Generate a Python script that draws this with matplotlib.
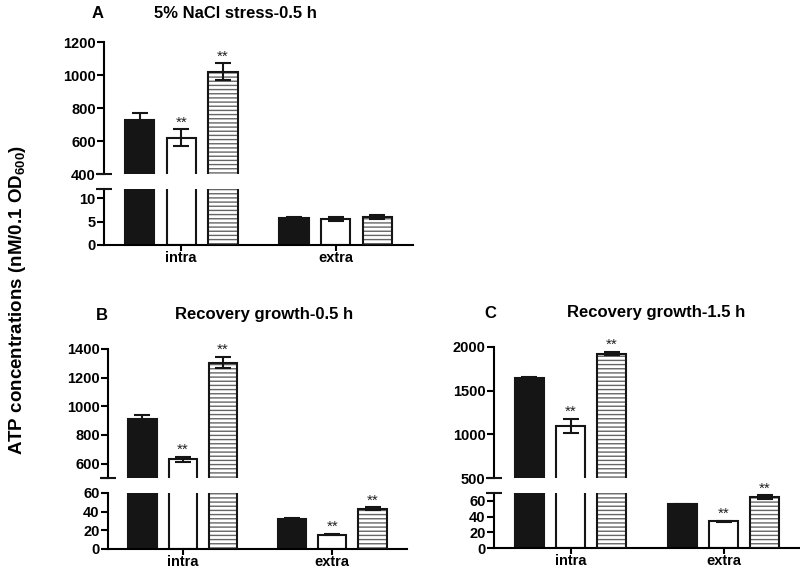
import numpy as np
import matplotlib
matplotlib.use('Agg')
import matplotlib.pyplot as plt

plt.rcParams['font.family'] = ['Liberation Sans', 'DejaVu Sans']
plt.rcParams['font.weight'] = 'bold'
plt.rcParams['mathtext.fontset'] = 'custom'
plt.rcParams['mathtext.bf'] = 'Liberation Sans:bold'
plt.rcParams['mathtext.rm'] = 'Liberation Sans:bold'
plt.rcParams['mathtext.default'] = 'bf'

# data: order of bars within each group = black, white, hatched
categories = ['intra', 'extra']

a_means = [[730, 620, 1020], [5.7, 5.5, 6.0]]
a_errs = [[40, 50, 50], [0.3, 0.4, 0.5]]
a_stars = [['', '**', '**'], ['', '', '']]

b_means = [[915, 630, 1305], [32.5, 15.5, 43]]
b_errs = [[25, 20, 40], [0.6, 0.5, 1.5]]
b_stars = [['', '**', '**'], ['', '**', '**']]

c_means = [[1650, 1095, 1925], [55.5, 34, 65]]
c_errs = [[10, 85, 20], [0.6, 0.6, 2.0]]
c_stars = [['', '**', '**'], ['', '**', '**']]

W, H = 800, 570
fig = plt.figure(figsize=(8, 5.7), dpi=100)


def fbox(x0, x1, y0, y1):
    # pixel box (top-left origin) -> figure fraction rect
    return [x0 / W, 1 - y1 / H, (x1 - x0) / W, (y1 - y0) / H]


offsets = [-0.27, 0, 0.27]
bw = 0.19
LW = 1.5


def draw_bars(ax, means, errs):
    x = np.arange(len(categories))
    for i in range(3):
        xs = x + offsets[i]
        vals = [m[i] for m in means]
        es = [e[i] for e in errs]
        if i == 0:
            ax.bar(xs, vals, bw, color='#151515', edgecolor='#151515', lw=LW, zorder=2)
        elif i == 1:
            ax.bar(xs, vals, bw, color='white', edgecolor='#151515', lw=LW, zorder=2)
        else:
            ax.bar(xs, vals, bw, color='white', edgecolor='#666666', lw=0,
                   hatch='----', zorder=2)
            ax.bar(xs, vals, bw, fill=False, edgecolor='#151515', lw=LW, zorder=3)
        ax.errorbar(xs, vals, yerr=es, fmt='none', ecolor='#151515',
                    elinewidth=LW, capsize=6, capthick=LW, zorder=4)


def style(ax):
    for s in ['top', 'right']:
        ax.spines[s].set_visible(False)
    for s in ['left', 'bottom']:
        ax.spines[s].set_linewidth(LW)
    ax.tick_params(axis='y', width=LW, length=5, labelsize=10.5, pad=1)
    ax.tick_params(axis='x', width=LW, length=4, labelsize=10.5, pad=0.5)
    ax.set_xlim(-0.5, 1.5)


def break_mark(ax, y):
    ax.plot([0], [y], transform=ax.transAxes, marker='_', ms=11, mew=LW,
            color='#151515', clip_on=False, zorder=5)


def panel(box, gap_y, bot_y, means, errs, stars, top_lim, top_ticks, top_labels,
          bot_lim, bot_ticks, bot_labels, bot_break):
    x0, x1, y0 = box
    ax_t = fig.add_axes(fbox(x0, x1, y0, gap_y))
    ax_b = fig.add_axes(fbox(x0, x1, gap_y + 15, bot_y))
    for ax in (ax_t, ax_b):
        draw_bars(ax, means, errs)
        style(ax)
    ax_t.set_ylim(*top_lim)
    ax_t.set_yticks(top_ticks)
    ax_t.set_yticklabels(top_labels)
    ax_t.spines['bottom'].set_visible(False)
    ax_t.set_xticks([])
    ax_b.set_ylim(*bot_lim)
    ax_b.set_yticks(bot_ticks)
    ax_b.set_yticklabels(bot_labels)
    ax_b.set_xticks(np.arange(len(categories)))
    ax_b.set_xticklabels(categories, fontsize=10.5)
    break_mark(ax_t, 0)
    if bot_break:
        break_mark(ax_b, 1)
    # significance stars
    for g in range(len(categories)):
        ax = ax_t if g == 0 else ax_b
        for i in range(3):
            if stars[g][i]:
                ax.annotate(stars[g][i], (g + offsets[i], means[g][i] + errs[g][i]),
                            xytext=(0, 0), textcoords='offset points',
                            ha='center', va='bottom', fontsize=11,
                            fontweight='normal', color='#222222')
    return ax_t, ax_b


panel((104, 413, 42), 174, 245, a_means, a_errs, a_stars,
      (400, 1200), [400, 600, 800, 1000, 1200], ['400', '600', '800', '1000', '1200'],
      (0, 12), [0, 5, 10], ['0', '5', '10'], True)

panel((108, 407, 349), 478, 549, b_means, b_errs, b_stars,
      (500, 1400), [500, 600, 800, 1000, 1200, 1400], ['', '600', '800', '1000', '1200', '1400'],
      (0, 60), [0, 20, 40, 60], ['0', '20', '40', '60'], False)

panel((494, 800, 347), 478, 548, c_means, c_errs, c_stars,
      (500, 2000), [500, 1000, 1500, 2000], ['500', '1000', '1500', '2000'],
      (0, 70), [0, 20, 40, 60], ['0', '20', '40', '60'], True)

# panel letters and titles
fig.text(98 / W, 1 - 13 / H, 'A', ha='center', va='center', fontsize=12)
fig.text(235 / W, 1 - 13 / H, '5% NaCl stress-0.5 h', ha='center', va='center', fontsize=12)
fig.text(102 / W, 1 - 315 / H, 'B', ha='center', va='center', fontsize=12)
fig.text(264 / W, 1 - 315 / H, 'Recovery growth-0.5 h', ha='center', va='center', fontsize=12)
fig.text(490 / W, 1 - 313 / H, 'C', ha='center', va='center', fontsize=12)
fig.text(656 / W, 1 - 313 / H, 'Recovery growth-1.5 h', ha='center', va='center', fontsize=12)

fig.text(18 / W, 1 - 300 / H, r'ATP concentrations (nM/0.1 OD$_{600}$)',
         rotation=90, ha='center', va='center', fontsize=13.5)

fig.savefig('out.png', dpi=100)
